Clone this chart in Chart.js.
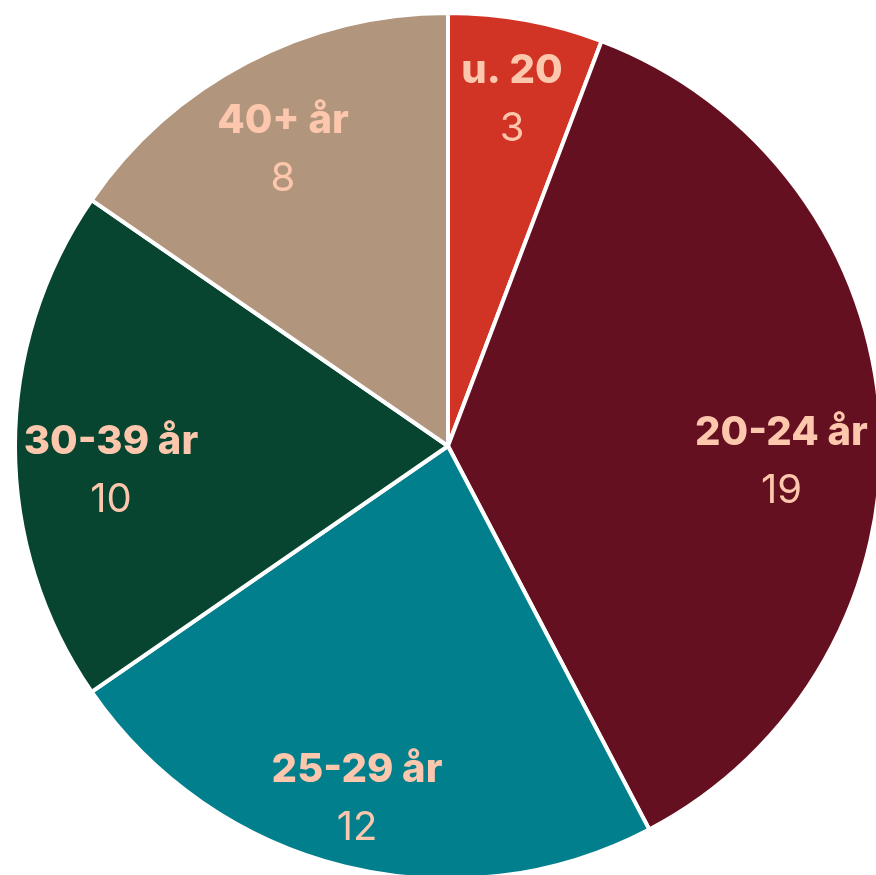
<!DOCTYPE html>
<html>
<head>
<meta charset="utf-8">
<script src="https://cdn.jsdelivr.net/npm/chart.js@4/dist/chart.umd.min.js"></script>
<style>
  html, body { margin: 0; padding: 0; background: #ffffff; overflow: hidden; width: 876px; height: 875px; }
  #wrap { position: absolute; left: 13px; top: 11px; width: 870px; height: 870px; }
</style>
</head>
<body>
<div id="wrap"><canvas id="c"></canvas></div>
<script>
const categories = ["u. 20", "20-24 år", "25-29 år", "30-39 år", "40+ år"];
const values = [3, 19, 12, 10, 8];
const sliceColors = ["#d13424", "#641020", "#027f8c", "#074530", "#b1967d"];
const labelColor = "#fcc7ad";
// small layout nudges for the labels (pixels), as placed in the reference
const labelNudges = [[0, 0], [-21, 34], [-6, 5], [18, 22], [0, 15]];

const sliceLabels = {
  id: 'sliceLabels',
  afterDatasetsDraw(chart) {
    const ctx = chart.ctx;
    const meta = chart.getDatasetMeta(0);
    meta.data.forEach((arc, i) => {
      const p = arc.getProps(['x', 'y', 'startAngle', 'endAngle', 'outerRadius'], true);
      const mid = (p.startAngle + p.endAngle) / 2;
      const d = p.outerRadius * 0.82;
      const cx = p.x + Math.cos(mid) * d + labelNudges[i][0];
      const cy = p.y + Math.sin(mid) * d + labelNudges[i][1];
      ctx.save();
      ctx.fillStyle = labelColor;
      ctx.textAlign = 'center';
      ctx.textBaseline = 'alphabetic';
      ctx.font = '800 40px Inter, "Noto Sans", sans-serif';
      ctx.fillText(categories[i], cx, cy - 14);
      ctx.font = '400 40px Inter, "Noto Sans", sans-serif';
      ctx.fillText(String(values[i]), cx, cy + 44);
      ctx.restore();
    });
  }
};

new Chart(document.getElementById('c'), {
  type: 'pie',
  data: {
    labels: categories,
    datasets: [{
      data: values,
      backgroundColor: sliceColors,
      borderColor: '#ffffff',
      borderWidth: 4
    }]
  },
  options: {
    responsive: true,
    maintainAspectRatio: false,
    animation: false,
    layout: { padding: 0 },
    plugins: {
      legend: { display: false },
      tooltip: { enabled: false }
    }
  },
  plugins: [sliceLabels]
});
</script>
</body>
</html>
